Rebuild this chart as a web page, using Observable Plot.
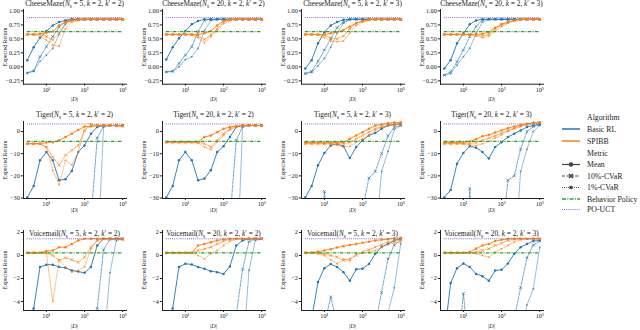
<!DOCTYPE html>
<html><head><meta charset="utf-8">
<script src="https://cdn.jsdelivr.net/npm/d3@7"></script>
<script src="https://cdn.jsdelivr.net/npm/@observablehq/plot@0.6"></script>
<style>
html,body{margin:0;padding:0;background:#fff;overflow:hidden}
#root{position:relative;width:640px;height:330px;font-family:"Liberation Serif",serif;color:#222}
.panel{position:absolute}
.title{position:absolute;font-size:7.3px;white-space:nowrap;transform:translate(-50%,-50%);line-height:1}
.title sub{font-size:0.7em;vertical-align:-0.25em;line-height:0}
.ylab{position:absolute;font-size:5.8px;white-space:nowrap;transform:translate(-50%,-50%) rotate(-90deg);line-height:1}
.xlab{position:absolute;font-size:6.2px;white-space:nowrap;transform:translate(-50%,-50%);line-height:1}
</style></head><body><div id="root"></div>
<script>
// ---------- data ----------
const xs = [3.16, 4.64, 6.81, 10, 14.7, 21.5, 31.6, 46.4, 68.1, 100, 147, 215, 316, 464, 681, 1000];

const envNames = ["CheeseMaze", "Tiger", "Voicemail"];
const panelParams = [["5", "2", "2"], ["20", "2", "2"], ["5", "2", "3"], ["20", "2", "3"]];
const behaviorValues = [0.63, -4.5, 0.23];
const pouctValues = [0.88, 3.4, 1.45];
const yTicksCheese = [-0.25, 0, 0.25, 0.5, 0.75, 1.0];
const yTicksTiger = [-30, -20, -10, 0];
const yTicksVoice = [-4, -2, 0, 2];
const yDomainCheese = [-0.31, 1.025];
const yDomainTiger = [-30.2, 4.5];
const yDomainVoice = [-4.78, 2.17];
const xTicks = [10, 100, 1000];
const legendAlgorithms = ["Basic RL", "SPIBB"];
const legendMetrics = ["Mean", "10%-CVaR", "1%-CVaR"];

// CheeseMaze(5,2,2)
const cm522_rl_mean = [0.12,0.35,0.52,0.64,0.74,0.80,0.83,0.85,0.85,0.85,0.85,0.85,0.85,0.85,0.85,0.85];
const cm522_rl_c10  = [-0.11,-0.07,0.18,0.36,0.54,0.71,0.82,0.85,0.85,0.85,0.85,0.85,0.85,0.85,0.85,0.85];
const cm522_rl_c1   = [-0.11,-0.08,0.10,0.21,0.33,0.58,0.76,0.84,0.85,0.85,0.85,0.85,0.85,0.85,0.85,0.85];
const cm522_sp_mean = [0.58,0.58,0.59,0.61,0.63,0.74,0.80,0.83,0.84,0.85,0.85,0.85,0.85,0.85,0.85,0.85];
const cm522_sp_c10  = [0.58,0.58,0.58,0.54,0.48,0.60,0.79,0.83,0.84,0.85,0.85,0.85,0.85,0.85,0.85,0.85];
const cm522_sp_c1   = [0.58,0.58,0.54,0.48,0.39,0.37,0.68,0.80,0.83,0.84,0.85,0.85,0.85,0.85,0.85,0.85];
// CheeseMaze(20,2,2)
const cm2022_rl_mean = [0.13,0.35,0.51,0.64,0.76,0.82,0.85,0.85,0.85,0.85,0.85,0.85,0.85,0.85,0.85,0.85];
const cm2022_rl_c10  = [-0.09,-0.08,0.06,0.21,0.36,0.63,0.83,0.85,0.85,0.85,0.85,0.85,0.85,0.85,0.85,0.85];
const cm2022_rl_c1   = [-0.09,-0.08,0.00,0.13,0.18,0.33,0.65,0.83,0.85,0.85,0.85,0.85,0.85,0.85,0.85,0.85];
const cm2022_sp_mean = [0.58,0.58,0.58,0.58,0.58,0.58,0.60,0.64,0.74,0.82,0.85,0.85,0.85,0.85,0.85,0.85];
const cm2022_sp_c10  = [0.58,0.58,0.58,0.58,0.58,0.55,0.49,0.57,0.68,0.80,0.84,0.85,0.85,0.85,0.85,0.85];
const cm2022_sp_c1   = [0.58,0.58,0.58,0.58,0.58,0.52,0.43,0.54,0.65,0.77,0.83,0.85,0.85,0.85,0.85,0.85];
// CheeseMaze(5,2,3)
const cm523_rl_mean = [-0.03,0.12,0.42,0.62,0.74,0.80,0.84,0.85,0.85,0.85,0.85,0.85,0.85,0.85,0.85,0.85];
const cm523_rl_c10  = [-0.12,-0.08,0.10,0.30,0.50,0.70,0.80,0.85,0.85,0.85,0.85,0.85,0.85,0.85,0.85,0.85];
const cm523_rl_c1   = [-0.12,-0.10,0.02,0.15,0.35,0.60,0.78,0.85,0.85,0.85,0.85,0.85,0.85,0.85,0.85,0.85];
const cm523_sp_mean = [0.58,0.58,0.58,0.58,0.60,0.62,0.66,0.72,0.78,0.82,0.84,0.85,0.85,0.85,0.85,0.85];
const cm523_sp_c10  = [0.58,0.58,0.58,0.56,0.52,0.50,0.55,0.68,0.78,0.82,0.84,0.85,0.85,0.85,0.85,0.85];
const cm523_sp_c1   = [0.58,0.58,0.57,0.52,0.46,0.45,0.46,0.60,0.74,0.80,0.83,0.85,0.85,0.85,0.85,0.85];
// CheeseMaze(20,2,3)
const cm2023_rl_mean = [-0.03,0.12,0.42,0.60,0.76,0.83,0.85,0.85,0.85,0.85,0.85,0.85,0.85,0.85,0.85,0.85];
const cm2023_rl_c10  = [-0.15,-0.09,0.09,0.30,0.54,0.72,0.84,0.85,0.85,0.85,0.85,0.85,0.85,0.85,0.85,0.85];
const cm2023_rl_c1   = [-0.15,-0.12,0.03,0.18,0.33,0.60,0.80,0.85,0.85,0.85,0.85,0.85,0.85,0.85,0.85,0.85];
const cm2023_sp_mean = [0.58,0.58,0.58,0.58,0.58,0.58,0.59,0.62,0.70,0.76,0.80,0.83,0.85,0.85,0.85,0.85];
const cm2023_sp_c10  = [0.58,0.58,0.58,0.58,0.58,0.57,0.55,0.58,0.68,0.75,0.80,0.83,0.85,0.85,0.85,0.85];
const cm2023_sp_c1   = [0.58,0.58,0.58,0.58,0.57,0.55,0.52,0.55,0.64,0.72,0.78,0.82,0.85,0.85,0.85,0.85];

// Tiger(5,2,2)
const tg522_rl_mean = [-29.7,-24.6,-13,-9.3,-13,-22,-21.5,-17.8,-9.3,-6.3,-1,2,2.7,2.7,2.7,2.7];
const tg522_rl_c10  = [-80,-80,-80,-80,-80,-80,-80,-80,-80,-80,-40,-3,2.5,2.7,2.7,2.7];
const tg522_rl_c1   = [-90,-90,-90,-90,-90,-90,-90,-90,-90,-90,-90,-60,2.0,2.7,2.7,2.7];
const tg522_sp_mean = [-5.5,-5.5,-5.5,-5,-4.8,-4,-2.5,-1,0.7,2.2,2.2,2.7,2.7,2.7,2.7,2.4];
const tg522_sp_c10  = [-5.5,-5.5,-5.5,-7,-11.5,-15.2,-10.7,-8.5,-6.3,0.5,2.7,2.7,2.7,2.7,2.7,2.5];
const tg522_sp_c1   = [-5.5,-5.5,-5.5,-7,-17.5,-24,-13,-15,-9.3,0.5,3.4,2.7,2.7,2.7,2.7,2.5];
// Tiger(20,2,2)
const tg2022_rl_mean = [-29.7,-24.6,-13,-9.3,-13,-22,-21.2,-17.5,-9.3,-6.6,-2.5,2,2.7,2.7,2.7,2.7];
const tg2022_rl_c10  = [-80,-80,-80,-80,-80,-80,-80,-80,-80,-80,-40,-4,2.2,2.7,2.7,2.7];
const tg2022_rl_c1   = [-90,-90,-90,-90,-90,-90,-90,-90,-90,-90,-90,-70,2.5,2.7,2.7,2.7];
const tg2022_sp_mean = [-4.8,-4.8,-4.8,-4.8,-4.8,-4.8,-2.5,-1.8,-0.3,1.2,2,2.4,2.7,2.7,2.7,2.7];
const tg2022_sp_c10  = [-4.8,-4.8,-4.8,-4.8,-4.8,-4.8,-5.5,-7,-4,-1,1.2,2.2,2.7,2.7,2.7,2.7];
const tg2022_sp_c1   = [-4.8,-4.8,-4.8,-4.8,-4.8,-5.2,-7,-8.2,-4.8,-1.8,0.7,2,2.7,2.7,2.7,2.7];
// Tiger(5,2,3)
const tg523_rl_mean = [-29.7,-24.6,-15.2,-9.7,-6.3,-5.5,-6.7,-12,-7,-4,-1.8,-0.7,1.2,2.7,3.1,3.4];
const tg523_rl_c10  = [-80,-80,-70,-27,-60,-80,-80,-80,-80,-35,-21,-18,-10,-2,2,2.7];
const tg523_rl_c1   = [-90,-90,-90,-90,-90,-90,-90,-90,-90,-90,-90,-50,-18,-9,1,2.7];
const tg523_sp_mean = [-5,-5,-5,-5,-5,-5,-4.8,-3.3,-1.8,-0.3,1.2,2.7,3.1,3.7,4.0,4.2];
const tg523_sp_c10  = [-5.5,-5.5,-5.5,-5.5,-5.5,-5.5,-5.5,-4.8,-3.3,-1.8,-0.3,1.2,2.2,2.7,3.1,3.4];
const tg523_sp_c1   = [-5.5,-5.5,-5.5,-5.5,-5.5,-6.3,-7,-6.7,-4.8,-3.3,-1.8,0.5,2,2.7,3.1,3.4];
// Tiger(20,2,3)
const tg2023_rl_mean = [-29.7,-26.4,-14.5,-9.7,-6.7,-7.3,-9.3,-12.2,-7,-4.8,-2.5,-1,0.5,2,2.7,3.4];
const tg2023_rl_c10  = [-80,-80,-80,-70,-25.7,-70,-80,-80,-80,-50,-22,-20,-8,0,2.2,3];
const tg2023_rl_c1   = [-90,-90,-90,-90,-90,-90,-90,-90,-90,-90,-90,-60,-18,-8,0,2.7];
const tg2023_sp_mean = [-5,-5,-5,-5,-4.5,-3.5,-2.2,-1.5,-0.5,0.5,1.5,2.3,3,3.5,4,4.2];
const tg2023_sp_c10  = [-5.5,-5.5,-5.5,-5.5,-5.5,-5,-4,-3,-2,-0.8,0.5,1.5,2.5,3.2,3.7,4];
const tg2023_sp_c1   = [-5.5,-5.5,-5.5,-5.5,-6,-6.5,-5.5,-4.5,-3,-1.5,0,1.2,2.2,3,3.5,3.8];

// Voicemail(5,2,2)
const vm522_rl_mean = [-6,-4.6,-1.0,-0.8,-0.8,-1.0,-1.07,-1.3,-1.4,-1.5,-1.0,0.87,1.45,1.45,1.45,1.45];
const vm522_rl_c10  = [-9,-9,-9,-9,-9,-9,-9,-9,-9,-9,-8,-4.6,0.5,1.4,1.45,1.45];
const vm522_rl_c1   = [-9,-9,-9,-9,-9,-9,-9,-9,-9,-9,-9,-9,-8,-1.5,1.3,1.45];
const vm522_sp_mean = [0.23,0.23,0.23,0.38,0.43,0.72,0.72,1.0,1.3,1.45,1.45,1.45,1.45,1.45,1.45,1.4];
const vm522_sp_c10  = [0.23,0.23,0.23,0.23,0.0,-0.43,-0.2,-0.38,-0.6,-0.15,0.72,1.3,1.45,1.45,1.45,1.4];
const vm522_sp_c1   = [0.23,0.23,0.23,0.2,-4.0,-0.43,-1.0,-1.45,-1.3,-1.0,0.58,1.3,1.45,1.45,1.45,1.4];
// Voicemail(20,2,2)
const vm2022_rl_mean = [-7,-4.6,-1.0,-0.72,-0.78,-1.0,-1.16,-1.36,-1.45,-1.6,-0.96,0.87,1.3,1.45,1.45,1.45];
const vm2022_rl_c10  = [-9,-9,-9,-9,-9,-9,-9,-9,-9,-9,-9,-5.2,-1.2,1.2,1.45,1.45];
const vm2022_rl_c1   = [-9,-9,-9,-9,-9,-9,-9,-9,-9,-9,-9,-9,-9,-1.3,1.3,1.45];
const vm2022_sp_mean = [0.23,0.23,0.23,0.23,0.23,0.87,1.0,1.16,1.3,1.4,1.45,1.45,1.45,1.45,1.45,1.45];
const vm2022_sp_c10  = [0.23,0.23,0.23,0.23,0.23,0.43,0.58,0.72,1.0,1.25,1.4,1.45,1.45,1.45,1.45,1.45];
const vm2022_sp_c1   = [0.23,0.23,0.23,0.23,0.23,0.0,-0.3,0.15,0.43,0.87,1.25,1.4,1.45,1.45,1.45,1.45];
// Voicemail(5,2,3)
const vm523_rl_mean = [-7,-5.5,-2.3,-1.1,-0.75,-1.0,-1.45,-2.2,-1.2,-1.15,-0.75,0.15,0.75,1.0,1.3,1.45];
const vm523_rl_c10  = [-9,-9,-9,-6,-3.6,-6,-9,-9,-9,-9,-9,-6,-3.2,-0.3,0.9,1.35];
const vm523_rl_c1   = [-9,-9,-9,-9,-9,-9,-9,-9,-9,-9,-9,-9,-9,-5.0,-2.8,1.0];
const vm523_sp_mean = [0.23,0.25,0.33,0.43,0.55,0.7,0.8,0.9,1.0,1.1,1.2,1.3,1.36,1.42,1.5,1.55];
const vm523_sp_c10  = [0.23,0.23,0.2,0.15,0.0,-0.15,-0.43,-0.3,0.0,0.3,0.5,0.72,0.95,1.16,1.3,1.36];
const vm523_sp_c1   = [0.23,0.23,0.15,0.0,-0.4,-0.7,-0.3,-0.45,0.15,0.2,0.3,0.43,0.7,0.95,1.1,1.16];
// Voicemail(20,2,3)
const vm2023_rl_mean = [-7,-2.4,-1.1,-0.7,-1.0,-1.6,-1.8,-2.2,-1.3,-1.25,-0.7,0.15,0.72,1.0,1.25,1.3];
const vm2023_rl_c10  = [-9,-9,-9,-3.3,-9,-9,-9,-9,-9,-9,-9,-5.5,-2.8,-0.2,0.9,1.25];
const vm2023_rl_c1   = [-9,-9,-9,-9,-9,-9,-9,-9,-9,-9,-9,-9,-7,-4.3,-2.9,0.7];
const vm2023_sp_mean = [0.23,0.23,0.23,0.23,0.3,0.6,0.87,1.0,1.25,1.36,1.45,1.45,1.45,1.45,1.45,1.45];
const vm2023_sp_c10  = [0.23,0.23,0.23,0.23,0.23,0.3,0.43,0.58,0.87,1.07,1.3,1.4,1.45,1.45,1.45,1.45];
const vm2023_sp_c1   = [0.23,0.23,0.23,0.23,0.23,0.15,0.0,-0.15,0.3,0.58,0.87,1.16,1.36,1.45,1.45,1.45];

// ---------- assembly ----------
const panelSeries = [
  [
    [cm522_rl_mean, cm522_rl_c10, cm522_rl_c1, cm522_sp_mean, cm522_sp_c10, cm522_sp_c1],
    [cm2022_rl_mean, cm2022_rl_c10, cm2022_rl_c1, cm2022_sp_mean, cm2022_sp_c10, cm2022_sp_c1],
    [cm523_rl_mean, cm523_rl_c10, cm523_rl_c1, cm523_sp_mean, cm523_sp_c10, cm523_sp_c1],
    [cm2023_rl_mean, cm2023_rl_c10, cm2023_rl_c1, cm2023_sp_mean, cm2023_sp_c10, cm2023_sp_c1]
  ],
  [
    [tg522_rl_mean, tg522_rl_c10, tg522_rl_c1, tg522_sp_mean, tg522_sp_c10, tg522_sp_c1],
    [tg2022_rl_mean, tg2022_rl_c10, tg2022_rl_c1, tg2022_sp_mean, tg2022_sp_c10, tg2022_sp_c1],
    [tg523_rl_mean, tg523_rl_c10, tg523_rl_c1, tg523_sp_mean, tg523_sp_c10, tg523_sp_c1],
    [tg2023_rl_mean, tg2023_rl_c10, tg2023_rl_c1, tg2023_sp_mean, tg2023_sp_c10, tg2023_sp_c1]
  ],
  [
    [vm522_rl_mean, vm522_rl_c10, vm522_rl_c1, vm522_sp_mean, vm522_sp_c10, vm522_sp_c1],
    [vm2022_rl_mean, vm2022_rl_c10, vm2022_rl_c1, vm2022_sp_mean, vm2022_sp_c10, vm2022_sp_c1],
    [vm523_rl_mean, vm523_rl_c10, vm523_rl_c1, vm523_sp_mean, vm523_sp_c10, vm523_sp_c1],
    [vm2023_rl_mean, vm2023_rl_c10, vm2023_rl_c1, vm2023_sp_mean, vm2023_sp_c10, vm2023_sp_c1]
  ]
];

const BLUE = "#1f77b4", ORANGE = "#ff7f0e", GREEN = "#2ca02c", PURPLE = "#9467bd";
const algColors = [BLUE, BLUE, BLUE, ORANGE, ORANGE, ORANGE];
const metricStyle = [
  {dash: null, w: 0.9, op: 1, symbol: "circle", r: 1.25, filled: true},
  {dash: "2.6,1.2", w: 0.75, op: 0.85, symbol: "times", r: 1.4, filled: false},
  {dash: "0.9,0.8", w: 0.7, op: 0.7, symbol: "square", r: 0.95, filled: true}
];

const rowsLayout = [
  {top: 9.3, bottom: 84, titleY: 3.8, xlabY: 98.5, domain: yDomainCheese, ticks: yTicksCheese, fmt: d3.format(".2f")},
  {top: 121, bottom: 198, titleY: 115, xlabY: 210, domain: yDomainTiger, ticks: yTicksTiger, fmt: d3.format("d")},
  {top: 230, bottom: 310, titleY: 234, xlabY: 325.5, domain: yDomainVoice, ticks: yTicksVoice, fmt: d3.format("d")}
];
const colLeft = c => 23 + 139 * c;
const plotW = 103, mL = 26, mR = 6, mT = 6, mB = 16;
const sup = "⁰¹²³⁴";
const root = document.getElementById("root");

function addDiv(cls, html, x, y) {
  const d = document.createElement("div");
  d.className = cls; d.innerHTML = html;
  d.style.left = x + "px"; d.style.top = y + "px";
  root.appendChild(d);
}

rowsLayout.forEach((row, r) => {
  for (let c = 0; c < 4; c++) {
    const series = panelSeries[r][c];
    const marks = [];
    series.forEach((vals, s) => {
      const st = metricStyle[s % 3];
      const color = algColors[s];
      const pts = xs.map((x, i) => ({x, y: vals[i]}));
      marks.push(Plot.line(pts, {x: "x", y: "y", stroke: color, strokeWidth: st.w,
        strokeOpacity: st.op, strokeDasharray: st.dash || undefined, clip: true}));
      marks.push(Plot.dot(pts, {x: "x", y: "y", symbol: st.symbol, r: st.r,
        fill: st.filled ? color : "none", stroke: st.filled ? "none" : color,
        strokeWidth: 0.8, fillOpacity: st.op, strokeOpacity: st.op, clip: true}));
    });
    marks.push(Plot.ruleY([behaviorValues[r]], {x1: xs[0], x2: xs[xs.length - 1], stroke: GREEN,
      strokeWidth: 1.2, strokeDasharray: "3.6,1.2,1,1.2"}));
    marks.push(Plot.ruleY([pouctValues[r]], {x1: xs[0], x2: xs[xs.length - 1], stroke: PURPLE,
      strokeWidth: 1.0, strokeDasharray: "1,1.1"}));

    const h = row.bottom - row.top;
    const svg = Plot.plot({
      width: mL + plotW + mR, height: mT + h + mB,
      marginLeft: mL, marginRight: mR, marginTop: mT, marginBottom: mB,
      style: {fontFamily: "Liberation Serif, serif", fontSize: "6.2px", color: "#222", background: "transparent", overflow: "visible"},
      x: {type: "log", domain: [Math.pow(10, 0.4), Math.pow(10, 3.1)], ticks: xTicks,
          tickFormat: d => "10" + sup[Math.round(Math.log10(d))], tickSize: 2, tickPadding: 1.2, label: null, line: true},
      y: {domain: row.domain, ticks: row.ticks, tickFormat: row.fmt, tickSize: 2.2, tickPadding: 1.5, label: null, line: true},
      marks
    });
    const wrap = document.createElement("div");
    wrap.className = "panel";
    wrap.style.left = (colLeft(c) - mL) + "px";
    wrap.style.top = (row.top - mT) + "px";
    wrap.appendChild(svg);
    root.appendChild(wrap);

    const p = panelParams[c];
    const cx = colLeft(c) + plotW / 2;
    addDiv("title", `${envNames[r]}(<i>N</i><sub>s</sub> = ${p[0]}, <i>k</i> = ${p[1]}, <i>k</i>′ = ${p[2]})`, cx, row.titleY);
    addDiv("ylab", "Expected Return", colLeft(c) - 17.5, (row.top + row.bottom) / 2);
    addDiv("xlab", "|<i>D</i>|", cx, row.xlabY);
  }
});

// ---------- legend ----------
(function legend() {
  const ns = "http://www.w3.org/2000/svg";
  const svg = document.createElementNS(ns, "svg");
  svg.setAttribute("width", 90); svg.setAttribute("height", 110);
  svg.style.position = "absolute"; svg.style.left = "552px"; svg.style.top = "108px";
  svg.style.fontFamily = "Liberation Serif, serif"; svg.style.fontSize = "7.8px";
  const x0 = 10, x1 = 28, tx = 35;
  function el(tag, attrs) { const e = document.createElementNS(ns, tag); for (const k in attrs) e.setAttribute(k, attrs[k]); svg.appendChild(e); return e; }
  function text(t, y) { const e = el("text", {x: tx, y: y, "dominant-baseline": "central", fill: "#222"}); e.textContent = t; }
  function line(y, color, w, dash) { const a = {x1: x0, x2: x1, y1: y, y2: y, stroke: color, "stroke-width": w}; if (dash) a["stroke-dasharray"] = dash; el("line", a); }
  const ys = [9, 21, 33, 45, 56.5, 68, 79.5, 91, 101.5];
  text("Algorithm", ys[0]);
  line(ys[1], BLUE, 1.5); text(legendAlgorithms[0], ys[1]);
  line(ys[2], ORANGE, 1.5); text(legendAlgorithms[1], ys[2]);
  text("Metric", ys[3]);
  const mid = (x0 + x1) / 2, gray = "#444";
  line(ys[4], gray, 1.2); el("circle", {cx: mid, cy: ys[4], r: 2.3, fill: gray}); text(legendMetrics[0], ys[4]);
  line(ys[5], gray, 1.0, "3,1.4"); el("path", {d: `M${mid-2},${ys[5]-2}L${mid+2},${ys[5]+2}M${mid-2},${ys[5]+2}L${mid+2},${ys[5]-2}`, stroke: gray, "stroke-width": 1.6}); text(legendMetrics[1], ys[5]);
  line(ys[6], gray, 0.9, "1,1"); el("rect", {x: mid - 1.6, y: ys[6] - 1.6, width: 3.2, height: 3.2, fill: gray}); text(legendMetrics[2], ys[6]);
  line(ys[7], GREEN, 1.3, "4,1.3,1,1.3"); text("Behavior Policy", ys[7]);
  line(ys[8], PURPLE, 1.2, "1,1.1"); text("PO-UCT", ys[8]);
  root.appendChild(svg);
})();
</script></body></html>
